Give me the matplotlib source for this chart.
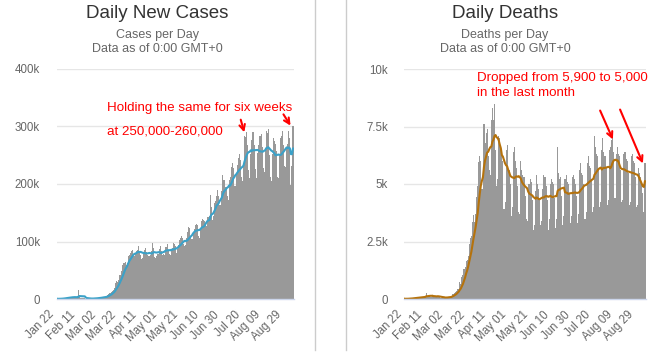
import matplotlib
matplotlib.use("Agg")
import matplotlib.pyplot as plt
import numpy as np
import pandas as pd
from matplotlib.patches import FancyArrowPatch
from matplotlib.lines import Line2D

plt.rcParams['font.family'] = ['Liberation Sans', 'DejaVu Sans']

# ---------------- data ----------------
start_date = "2020-01-22"
tick_labels = ["Jan 22", "Feb 11", "Mar 02", "Mar 22", "Apr 11", "May 01",
               "May 21", "Jun 10", "Jun 30", "Jul 20", "Aug 09", "Aug 29"]

# daily new cases, thousands
cases_jan = [0.5, 0.1, 0.3, 0.7, 0.7, 0.8, 1.8, 1.5, 2.1, 2.0]
cases_feb = [2.1, 2.6, 3.2, 3.9, 3.7, 3.2, 3.4, 2.7, 3.0, 2.5, 2.0, 15.1, 6.5, 2.6, 2.1,
             2.0, 1.9, 1.8, 0.5, 0.6, 1.0, 1.0, 0.4, 0.6, 0.9, 0.9, 1.1, 1.4, 1.8]
cases_mar = [2.0, 1.9, 2.5, 2.3, 2.8, 3.9, 3.9, 4.0, 3.9, 4.6, 7.1, 7.9, 10.5, 10.9, 11.4,
             14.6, 16.5, 18.7, 27.1, 31.0, 30.2, 33.7, 41.7, 41.5, 49.2, 59.8, 62.4, 64.3,
             58.8, 61.9, 74.3]
cases_apr = [76.9, 79.7, 83.7, 85.0, 75.0, 74.0, 78.0, 84.0, 86.0, 92.0, 83.0, 76.0, 70.0,
             72.0, 82.0, 85.0, 89.0, 81.0, 76.0, 74.0, 74.0, 76.0, 84.0, 98.0, 89.0, 73.0,
             72.0, 74.0, 78.0, 87.0]
cases_may = [93, 83, 77, 79, 77, 90, 90, 96, 85, 78, 76, 85, 89, 97, 96, 92, 80, 87, 94, 103,
             106, 110, 106, 96, 92, 94, 106, 117, 125, 123, 107]
cases_jun = [104, 116, 121, 129, 130, 129, 109, 106, 124, 136, 139, 137, 136, 133, 127, 142,
             143, 145, 181, 160, 137, 144, 167, 171, 180, 190, 180, 163, 164, 187]
cases_jul = [215, 207, 207, 194, 180, 172, 207, 213, 229, 237, 228, 196, 197, 219, 233, 246,
             252, 241, 212, 206, 235, 284, 282, 290, 267, 224, 210, 253, 277, 290, 290]
cases_aug = [267, 226, 210, 254, 268, 284, 287, 265, 227, 220, 260, 293, 288, 295, 251, 213,
             206, 253, 280, 275, 270, 258, 213, 210, 248, 280, 283, 292, 268, 232, 229]
cases_sep = [262, 270, 292, 280, 198, 232, 300]

# daily deaths
deaths_jan = [17, 1, 8, 16, 14, 26, 26, 38, 43, 46]
deaths_feb = [45, 57, 64, 66, 73, 73, 86, 89, 97, 108, 97, 254, 121, 143, 142, 106, 98, 139,
              115, 125, 112, 98, 152, 74, 77, 64, 55, 57, 67]
deaths_mar = [63, 75, 77, 100, 100, 102, 104, 236, 200, 275, 321, 349, 444, 424, 748, 635, 943,
              1049, 1298, 1395, 1667, 1700, 1868, 2380, 2638, 2735, 3365, 3631, 3355, 3684, 4425]
deaths_apr = [4900, 5950, 6200, 6000, 4800, 4800, 7600, 6800, 7200, 7400, 6200, 5600, 5400,
              7800, 8300, 7800, 8500, 6500, 4900, 5200, 7100, 7000, 6700, 6400, 6000, 3900,
              4200, 6500, 6700, 5600]
deaths_may = [5600, 5000, 3600, 4000, 6400, 6600, 6000, 5700, 4900, 3800, 3700, 6000, 5600,
              5400, 5300, 4500, 3500, 3400, 5000, 5000, 5200, 5100, 4300, 3000, 3200, 4700,
              5400, 5000, 4800, 4300, 3200]
deaths_jun = [3400, 4800, 5400, 5300, 4900, 4300, 3000, 3500, 5000, 5200, 5100, 5000, 4400,
              3100, 3500, 6600, 5500, 5200, 5300, 4500, 3200, 3600, 5200, 5400, 5100, 5000,
              4600, 3300, 3600, 5300]
deaths_jul = [5400, 5200, 5000, 4500, 3300, 3700, 5600, 5900, 5500, 5400, 5000, 3500, 3800,
              5900, 6200, 5800, 5700, 5200, 3800, 4000, 7100, 6600, 6300, 6200, 5600, 4000,
              4200, 6500, 7000, 6400, 6200]
deaths_aug = [5700, 4100, 4300, 6500, 6600, 6900, 7200, 6400, 4400, 4400, 6300, 6600, 6300,
              6200, 5600, 4200, 4300, 6300, 6400, 6100, 6000, 5500, 4100, 4200, 6200, 6300,
              6000, 5900, 5300, 4000, 4100]
deaths_sep = [5700, 5500, 5300, 5100, 4600, 3800, 5900]

cases = np.array(cases_jan + cases_feb + cases_mar + cases_apr + cases_may + cases_jun +
                 cases_jul + cases_aug + cases_sep) * 1000
deaths = np.array(deaths_jan + deaths_feb + deaths_mar + deaths_apr + deaths_may + deaths_jun +
                  deaths_jul + deaths_aug + deaths_sep, dtype=float)

dates = pd.date_range(start_date, periods=len(cases), freq="D")
cases_ma = pd.Series(cases).rolling(7, min_periods=1).mean().values
deaths_ma = pd.Series(deaths).rolling(7, min_periods=1).mean().values

# ---------------- figure ----------------
W, H = 664, 353
fig = plt.figure(figsize=(W / 100, H / 100), dpi=100)
fig.patch.set_facecolor("white")


def fx(x):
    return x / W


def fy(y):
    return 1 - y / H


def make_ax(x0, x1, y_top, y_bot):
    return fig.add_axes([fx(x0), fy(y_bot), (x1 - x0) / W, (y_bot - y_top) / H])


ax1 = make_ax(56.5, 293.5, 69, 299)
ax2 = make_ax(403.5, 645.5, 69, 299)

idx = np.arange(len(cases))
tick_pos = np.arange(0, len(cases), 20)[:len(tick_labels)]


def style(ax, values, ma, line_color, yticks, ylabels, ypad):
    ax.bar(idx, values, width=1.0, color="#999999", linewidth=0, zorder=2,
           antialiased=False)
    ax.plot(idx, ma, color=line_color, lw=1.5, zorder=3, solid_joinstyle="round",
            solid_capstyle="round")
    ax.set_xlim(-0.5, len(values) - 0.5)
    ax.set_ylim(0, yticks[-1])
    ax.set_yticks(yticks)
    ax.set_yticklabels(ylabels)
    for t in yticks[1:]:
        ax.axhline(t, color="#e6e6e6", lw=1, zorder=1)
    ax.set_xticks(tick_pos)
    ax.set_xticklabels(tick_labels, rotation=45, ha="right", rotation_mode="default")
    ax.tick_params(axis="x", length=0, pad=7, labelsize=8.3, labelcolor="#666666")
    ax.tick_params(axis="y", length=0, pad=ypad, labelsize=8.3, labelcolor="#666666")
    for s in ["top", "right", "left"]:
        ax.spines[s].set_visible(False)
    ax.spines["bottom"].set_color("#ccd6eb")
    ax.spines["bottom"].set_linewidth(1)
    ax.spines["bottom"].set_zorder(4)
    for lab in ax.get_yticklabels():
        lab.set_ha("right")


style(ax1, cases, cases_ma, "#3ba1c8",
      [0, 100000, 200000, 300000, 400000], ["0", "100k", "200k", "300k", "400k"], 12)
style(ax2, deaths, deaths_ma, "#b5720c",
      [0, 2500, 5000, 7500, 10000], ["0", "2.5k", "5k", "7.5k", "10k"], 11)

# divider lines
for xline in (314.5, 345.5):
    fig.add_artist(Line2D([fx(xline), fx(xline)], [fy(0), fy(350)], color="#cccccc", lw=1))

# titles
fig.text(fx(157), fy(18.5), "Daily New Cases", ha="center", va="baseline",
         fontsize=13.5, color="#333333")
fig.text(fx(157), fy(38), "Cases per Day", ha="center", va="baseline",
         fontsize=9, color="#666666")
fig.text(fx(157), fy(52), "Data as of 0:00 GMT+0", ha="center", va="baseline",
         fontsize=9, color="#666666")
fig.text(fx(505), fy(18.5), "Daily Deaths", ha="center", va="baseline",
         fontsize=13.5, color="#333333")
fig.text(fx(505), fy(38), "Deaths per Day", ha="center", va="baseline",
         fontsize=9, color="#666666")
fig.text(fx(505), fy(52), "Data as of 0:00 GMT+0", ha="center", va="baseline",
         fontsize=9, color="#666666")

# annotations
red = "#ff0000"
fig.text(fx(107), fy(110.5), "Holding the same for six weeks", ha="left", va="baseline",
         fontsize=9.6, color=red, zorder=6)
fig.text(fx(107), fy(134.5), "at 250,000-260,000", ha="left", va="baseline",
         fontsize=9.6, color=red, zorder=6)
fig.text(fx(477), fy(81.5), "Dropped from 5,900 to 5,000", ha="left", va="baseline",
         fontsize=9.6, color=red, zorder=6)
fig.text(fx(477), fy(96), "in the last month", ha="left", va="baseline",
         fontsize=9.6, color=red, zorder=6)

arrows = [((240, 117), (245, 135)), ((282, 112), (292, 128)),
          ((599, 108), (614, 142)), ((619, 107), (644, 166))]
for (xa, ya), (xb, yb) in arrows:
    fig.add_artist(FancyArrowPatch((fx(xa), fy(ya)), (fx(xb), fy(yb)),
                                   transform=fig.transFigure, arrowstyle="->",
                                   mutation_scale=10, color=red, lw=1.5, zorder=7))

fig.savefig("out.png", dpi=100, facecolor="white")
